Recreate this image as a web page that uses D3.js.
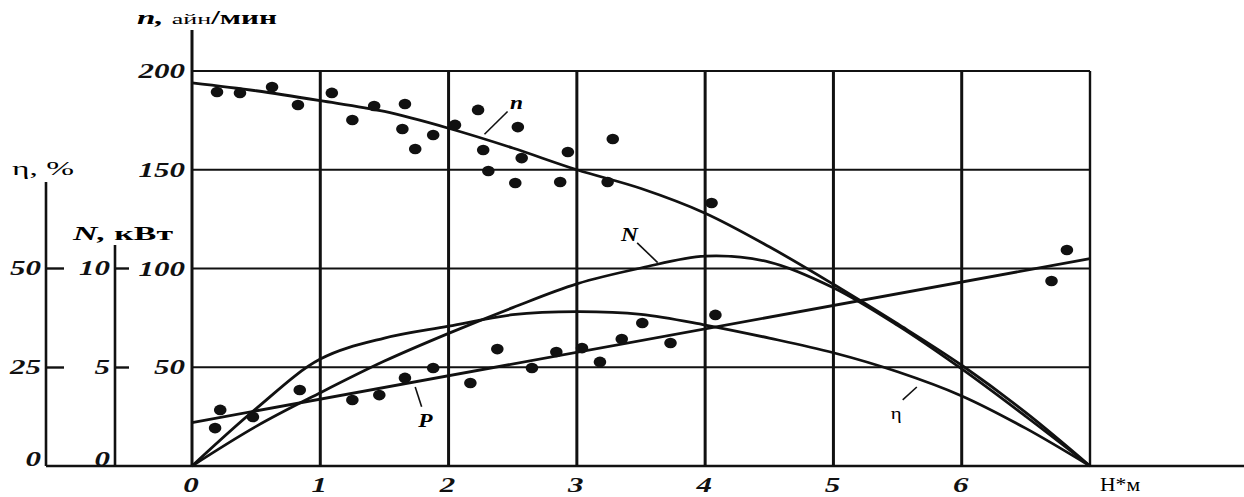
<!DOCTYPE html>
<html>
<head>
<meta charset="utf-8">
<script src="https://cdn.jsdelivr.net/npm/d3@7"></script>
<style>
  body { margin: 0; background: #fff; }
  svg { display: block; }
  .tick-lbl { font-family: "Liberation Serif", "DejaVu Serif", serif; font-weight: bold; font-style: italic; font-size: 20px; fill: #111; }
  .grid line { stroke: #111; }
  .curve { fill: none; stroke: #111; stroke-width: 2.8; }
  .lead { stroke: #111; stroke-width: 1.6; }
</style>
</head>
<body>
<svg id="chart" width="1244" height="497"></svg>
<script>
// torque, Н*м
const torque = [0, 0.5, 1, 1.5, 2, 2.5, 3, 3.5, 4, 4.5, 5, 5.5, 6, 6.5, 7]
// speed n (main axis units)
const nCurve = [194, 190, 185, 179.5, 171, 161, 150, 140.5, 128, 111, 92, 72, 51, 27, 0]
// power N, kW
const powerCurve = [0, 2.0, 3.7, 5.3, 6.7, 8.0, 9.2, 10.0, 10.6, 10.3, 9.0, 7.1, 4.9, 2.5, 0]
// efficiency, %
const etaCurve = [0, 14.5, 27, 32.3, 35.3, 38.2, 39, 38.3, 35.6, 32.3, 28.6, 23.8, 17.7, 9.5, 0]
// P straight line (main axis units) at torque 0 and 7
const pEnds = [[0, 22], [7, 105]]

// measured points
const nPoints = [
    [0.195, 189.4], [0.374, 188.9], [0.624, 191.9], [0.826, 182.8], [1.09, 188.9],
    [1.25, 175.2], [1.42, 182.3], [1.66, 183.3], [1.64, 170.6], [1.74, 160.5],
    [1.88, 167.6], [2.05, 172.7], [2.23, 180.3], [2.54, 171.6], [2.27, 160.0],
    [2.57, 155.9], [2.31, 149.4], [2.52, 143.3], [2.87, 143.8], [2.93, 159.0],
    [3.28, 165.6], [3.24, 143.8], [4.05, 133.2]
]
const pPoints = [
    [0.22, 28.4], [0.18, 19.2], [0.475, 24.8], [0.84, 38.5], [1.25, 33.4],
    [1.46, 35.9], [1.66, 44.6], [1.88, 49.6], [2.17, 42.0], [2.38, 59.2],
    [2.65, 49.6], [2.84, 57.7], [3.04, 59.7], [3.18, 52.7], [3.35, 64.3],
    [3.51, 72.4], [3.73, 62.3], [4.08, 76.5], [6.70, 93.7], [6.82, 109.4]
]

// tick labels
const xTicks = [0, 1, 2, 3, 4, 5, 6]
const mainTicks = [50, 100, 150, 200]
const etaTicks = [0, 25, 50]
const powerTicks = [0, 5, 10]

const svg = d3.select("#chart")
const serif = "Liberation Serif, serif"
const WIDE = 1.55 // the scanned figure has stretched glyphs

// Scales
const x = d3.scaleLinear().domain([0, 7]).range([192, 1090])
const y = d3.scaleLinear().domain([0, 200]).range([466, 71])
const yEta = d3.scaleLinear().domain([0, 50]).range([466, 268])
const yN = d3.scaleLinear().domain([0, 10]).range([466, 268])

// Grid
const grid = svg.append("g").attr("class", "grid")
grid.selectAll(".h").data(mainTicks).enter().append("line")
    .attr("x1", x(0)).attr("x2", x(7))
    .attr("y1", d => y(d)).attr("y2", d => y(d))
    .attr("stroke-width", 2.2)
grid.selectAll(".v").data(d3.range(1, 8)).enter().append("line")
    .attr("y1", y(200)).attr("y2", y(0))
    .attr("x1", d => x(d)).attr("x2", d => x(d))
    .attr("stroke-width", d => d == 7 ? 2.4 : 3)

// Main axes
svg.append("line").attr("x1", x(0)).attr("x2", x(0)).attr("y1", 30).attr("y2", y(0))
    .attr("stroke", "#111").attr("stroke-width", 3)
svg.append("line").attr("x1", 46).attr("x2", 1244).attr("y1", y(0)).attr("y2", y(0))
    .attr("stroke", "#111").attr("stroke-width", 2.4)

// Main y labels
svg.selectAll(".ml").data(mainTicks).enter().append("text")
    .attr("class", "tick-lbl")
    .attr("transform", d => `translate(185,${y(d) + 7}) scale(${WIDE},1)`)
    .attr("text-anchor", "end")
    .text(d => d)

// X labels
svg.selectAll(".xl").data(xTicks).enter().append("text")
    .attr("class", "tick-lbl")
    .attr("transform", d => `translate(${x(d) - 1},492) scale(${WIDE},1)`)
    .attr("text-anchor", "middle")
    .text(d => d)

svg.append("text").attr("transform", "translate(1100,491) scale(1.2,1)")
    .style("font-family", serif).style("font-size", "18px")
    .text("Н*м")

// Secondary axes (eta and N)
const addSideAxis = (scale, ticks, xPos, tickLen, topY) => {
    const axis = d3.axisLeft(scale)
        .tickValues(ticks)
        .tickSizeInner(-tickLen)
        .tickSizeOuter(0)
        .tickPadding(5)
    const g = svg.append("g").attr("transform", `translate(${xPos},0)`).call(axis)
    g.select(".domain").remove()
    g.selectAll(".tick line").attr("stroke", "#111").attr("stroke-width", 2.4)
        .filter(d => d == 0).remove()
    g.selectAll(".tick text")
        .attr("class", "tick-lbl")
        .attr("x", null)
        .attr("dy", d => d == 0 ? "-0.05em" : "0.32em")
        .attr("transform", `translate(-5,0) scale(${WIDE},1)`)
    g.append("line").attr("x1", 0).attr("x2", 0).attr("y1", topY).attr("y2", scale(0))
        .attr("stroke", "#111").attr("stroke-width", 2.6)
}
addSideAxis(yEta, etaTicks, 46, 18, 182)
addSideAxis(yN, powerTicks, 115, 14, 245)

// Axis titles
const tN = svg.append("text").attr("x", 137).attr("y", 24).style("font-family", serif)
    .attr("textLength", 140).attr("lengthAdjust", "spacingAndGlyphs")
tN.append("tspan").text("n, ").style("font-weight", "bold").style("font-style", "italic").style("font-size", "19px")
tN.append("tspan").text("айн").style("font-size", "15px")
tN.append("tspan").text("/мин").style("font-weight", "bold").style("font-size", "18px")

svg.append("text").attr("x", 12).attr("y", 175).style("font-family", serif)
    .style("font-size", "19px").attr("textLength", 62).attr("lengthAdjust", "spacingAndGlyphs")
    .text("η, %")

const tP = svg.append("text").attr("x", 73).attr("y", 240).style("font-family", serif)
    .style("font-weight", "bold").style("font-size", "19px")
    .attr("textLength", 100).attr("lengthAdjust", "spacingAndGlyphs")
tP.append("tspan").text("N, ").style("font-style", "italic")
tP.append("tspan").text("кВт")

// Curves
const mkLine = ys => d3.line()
    .x(d => x(d[0])).y(d => ys(d[1]))
    .curve(d3.curveCatmullRom.alpha(0.5))

const zipT = vals => torque.map((t, i) => [t, vals[i]])

svg.append("path").attr("class", "curve").attr("d", mkLine(y)(zipT(nCurve)))
svg.append("path").attr("class", "curve").attr("d", mkLine(yN)(zipT(powerCurve)))
svg.append("path").attr("class", "curve").attr("d", mkLine(yEta)(zipT(etaCurve)))
svg.append("path").attr("class", "curve").attr("d", d3.line().x(d => x(d[0])).y(d => y(d[1]))(pEnds))

// Points
svg.selectAll(".pt").data(nPoints.concat(pPoints)).enter().append("ellipse")
    .attr("cx", d => x(d[0])).attr("cy", d => y(d[1]))
    .attr("rx", 6.3).attr("ry", 5.3)
    .attr("fill", "#111")

// Curve labels with leader lines (in main axis units)
const curveLabels = [
    { t: "n", at: [2.53, 184], from: [2.46, 179.5], to: [2.28, 168], bold: true },
    { t: "N", at: [3.41, 117], from: [3.47, 113], to: [3.63, 103], bold: true },
    { t: "P", at: [1.82, 23], from: [1.74, 40], to: [1.79, 30], bold: true },
    { t: "η", at: [5.49, 27], from: [5.54, 33.5], to: [5.65, 40], bold: false },
]
curveLabels.forEach(l => {
    svg.append("line").attr("class", "lead")
        .attr("x1", x(l.from[0])).attr("y1", y(l.from[1]))
        .attr("x2", x(l.to[0])).attr("y2", y(l.to[1]))
    svg.append("text")
        .attr("transform", `translate(${x(l.at[0])},${y(l.at[1]) + 6}) scale(1.3,1)`)
        .attr("text-anchor", "middle")
        .style("font-family", serif)
        .style("font-style", l.bold ? "italic" : "normal")
        .style("font-weight", l.bold ? "bold" : "normal")
        .style("font-size", l.bold ? "18px" : "16px")
        .text(l.t)
})
</script>
</body>
</html>
